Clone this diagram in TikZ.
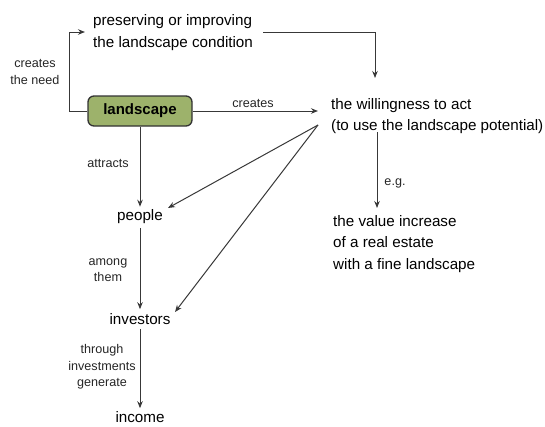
\documentclass[tikz,border=0pt]{standalone}
\usepackage{fontspec}
\setmainfont{Liberation Sans}
\usetikzlibrary{arrows.meta}
\definecolor{lineg}{HTML}{383838}
\definecolor{boxg}{HTML}{9DB26B}
\tikzset{
  txt/.style={inner sep=0pt, align=left, font=\fontsize{15.2}{21.5}\selectfont, text=black},
  lbl/.style={inner sep=0pt, align=center, font=\fontsize{12.6}{16.5}\selectfont, text=black!85},
  arr/.style={draw=lineg, line width=1pt, -{Stealth[length=7pt,width=5.5pt]}},
  ln/.style={draw=lineg, line width=1pt},
  boxst/.style={draw=black!80, line width=1.3pt, fill=boxg, rounded corners=6pt, minimum width=104pt, minimum height=30pt, inner sep=0pt, font=\fontsize{15}{18}\bfseries\selectfont}
}
\begin{document}
\begin{tikzpicture}[x=1pt,y=-1pt]
\useasboundingbox (0,0) rectangle (545,426);
% nodes
\node[boxst] (land) at (140,111) {landscape};
\node[txt, anchor=west] (pres) at (93,32.5) {preserving or improving\\the landscape condition};
\node[txt, anchor=west] (will) at (331,116) {the willingness to act\\(to use the landscape potential)};
\node[txt, anchor=west] (value) at (333,244) {the value increase\\of a real estate\\with a fine landscape};
\node[txt] (people) at (140,217) {people};
\node[txt] (inv) at (140,319) {investors};
\node[txt] (inc) at (140,417) {income};
% coordinates
\coordinate (corner) at (69,111);
\coordinate (presin) at (85,32);
\coordinate (presout) at (263,32);
\coordinate (topcorner) at (375,32);
\coordinate (willtop) at (375,78);
\coordinate (willin) at (318,111);
\coordinate (hub) at (318,125);
\coordinate (egstart) at (377,132);
\coordinate (egend) at (377,208);
\coordinate (pin) at (168,208);
\coordinate (iin) at (175,312);
% connectors
\draw[arr] (land.west) -- (corner) |- (presin);
\draw[ln] (presout) -- (topcorner);
\draw[arr] (topcorner) -- (willtop);
\draw[arr] (land.east) -- (willin);
\draw[arr] (hub) -- (pin);
\draw[arr] (hub) -- (iin);
\draw[arr] (egstart) -- (egend);
\draw[arr] (land.south) -- ([yshift=3pt]people.north);
\draw[arr] ([yshift=-4pt]people.south) -- ([yshift=4pt]inv.north);
\draw[arr] ([yshift=-4pt]inv.south) -- ([yshift=3pt]inc.north);
% labels
\node[lbl] (l1) at (35,72) {creates\\the need};
\node[lbl] (l2) at (253,103) {creates};
\node[lbl] (l3) at (108,163) {attracts};
\node[lbl] (l4) at (108,270) {among\\them};
\node[lbl] (l5) at (102,367) {through\\investments\\generate};
\node[lbl] (l6) at (395,183) {e.g.};
\end{tikzpicture}
\end{document}
